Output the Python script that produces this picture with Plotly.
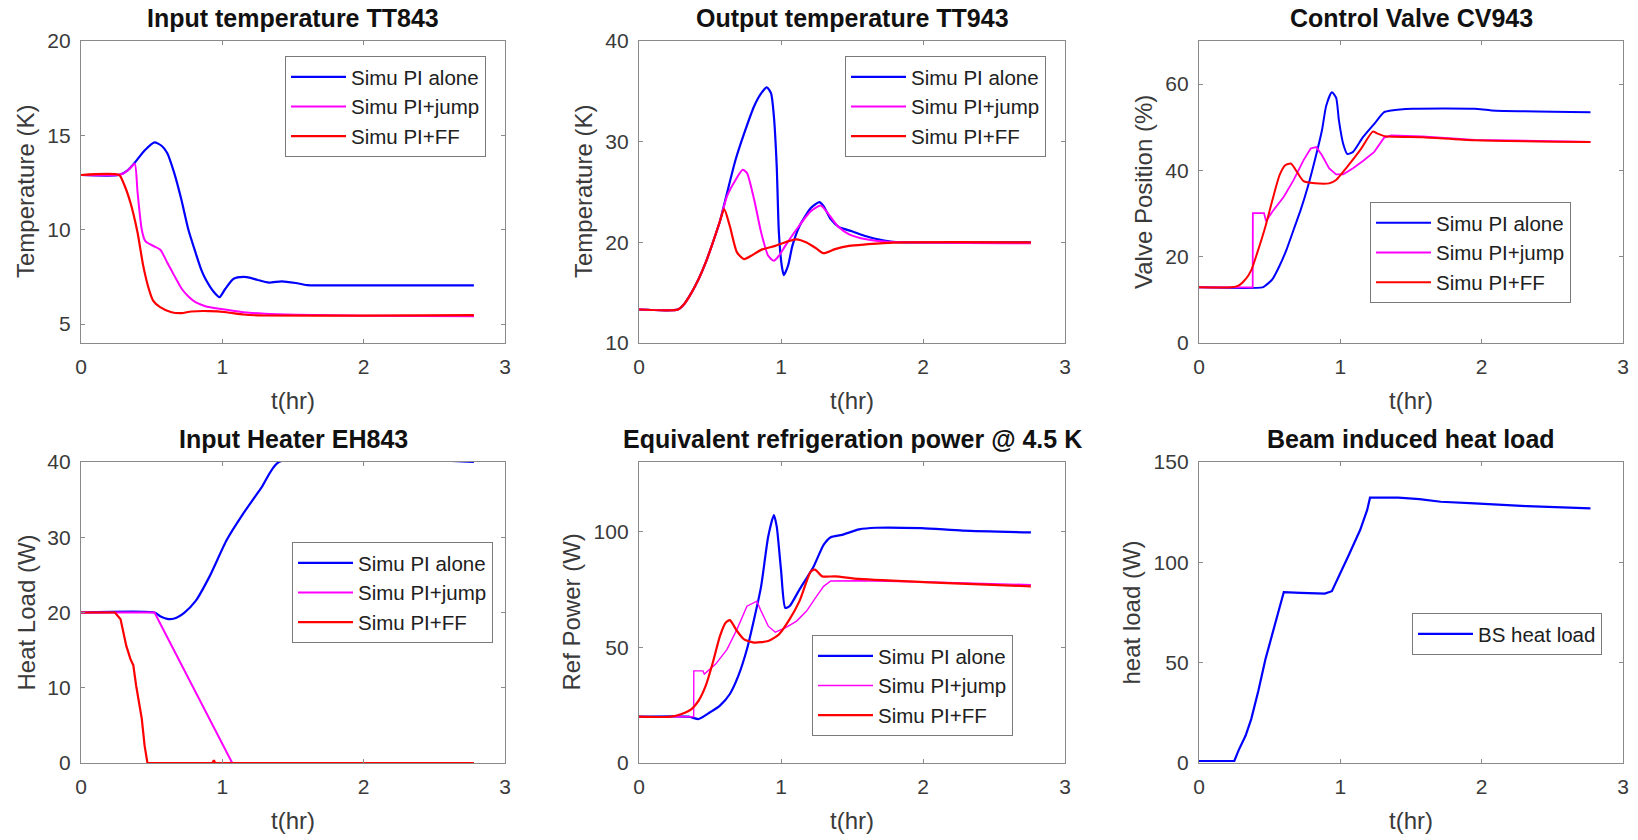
import plotly.graph_objects as go

# ---------------- data ----------------
# Panel 1: Input temperature TT843 (K)
t_tt843_pi = [0, 0.27, 0.33, 0.38, 0.45, 0.52, 0.57, 0.61, 0.66, 0.71, 0.76, 0.81, 0.85, 0.88, 0.94, 0.98,
              1.02, 1.08, 1.15, 1.2, 1.25, 1.33, 1.42, 1.52, 1.6, 2.0, 2.78]
v_tt843_pi = [12.9, 12.9, 13.15, 13.55, 14.2, 14.63, 14.45, 14.07, 13.0, 11.6, 10.0, 8.8, 7.9, 7.4, 6.7, 6.43,
              6.86, 7.4, 7.5, 7.45, 7.34, 7.2, 7.27, 7.18, 7.07, 7.05, 7.05]
t_tt843_jump = [0, 0.25, 0.3, 0.34, 0.38, 0.40, 0.43, 0.455, 0.51, 0.56, 0.61, 0.66, 0.71, 0.76, 0.81, 0.88,
                0.98, 1.15, 1.3, 1.52, 2.0, 2.78]
v_tt843_jump = [12.9, 12.9, 12.98, 13.2, 13.5, 12.0, 10.0, 9.4, 9.15, 8.95, 8.27, 7.57, 6.9, 6.46, 6.16, 5.95,
                5.81, 5.63, 5.55, 5.5, 5.45, 5.42]
t_tt843_ff = [0, 0.27, 0.30, 0.35, 0.40, 0.44, 0.48, 0.51, 0.56, 0.64, 0.71, 0.78, 0.91, 1.03, 1.15, 1.28, 2.0, 2.78]
v_tt843_ff = [12.9, 12.9, 12.49, 11.43, 9.85, 8.1, 6.86, 6.25, 5.9, 5.63, 5.58, 5.67, 5.69, 5.63, 5.51, 5.46, 5.45, 5.48]

# Panel 2: Output temperature TT943 (K)
t_tt943_pi = [0, 0.275, 0.32, 0.37, 0.42, 0.47, 0.52, 0.57, 0.62, 0.68, 0.74, 0.81, 0.86, 0.90, 0.93, 0.95, 0.97,
              0.985, 1.005, 1.02, 1.05, 1.08, 1.13, 1.21, 1.27, 1.30, 1.35, 1.41, 1.50, 1.60, 1.70, 1.79, 2.76]
v_tt943_pi = [13.33, 13.33, 13.9, 15.0, 16.35, 18.0, 19.98, 22.1, 24.9, 28.2, 30.8, 33.5, 34.8, 35.4, 34.8, 32.5, 27.5,
              21.0, 17.7, 16.75, 17.7, 19.65, 21.6, 23.4, 24.0, 23.6, 22.3, 21.5, 21.1, 20.6, 20.25, 20.05, 20.0]
t_tt943_jump = [0, 0.275, 0.32, 0.37, 0.42, 0.47, 0.52, 0.57, 0.62, 0.68, 0.73, 0.76, 0.81, 0.86, 0.91, 0.95, 0.985,
                1.03, 1.11, 1.21, 1.28, 1.33, 1.40, 1.48, 1.6, 1.75, 2.76]
v_tt943_jump = [13.33, 13.33, 13.9, 15.0, 16.35, 18.0, 19.98, 22.1, 24.6, 26.2, 27.2, 26.9, 24.3, 21.0, 18.66, 18.17,
                18.66, 19.65, 21.3, 23.1, 23.66, 22.9, 21.6, 20.8, 20.3, 20.05, 19.9]
t_tt943_ff = [0, 0.275, 0.32, 0.37, 0.42, 0.47, 0.52, 0.57, 0.6, 0.64, 0.69, 0.74, 0.79, 0.86, 0.96, 1.06, 1.11,
              1.18, 1.25, 1.30, 1.38, 1.48, 1.6, 1.79, 2.76]
v_tt943_ff = [13.33, 13.33, 13.9, 15.0, 16.35, 18.0, 19.98, 22.1, 23.3, 21.6, 19.0, 18.33, 18.66, 19.25, 19.65, 20.14,
              20.3, 19.98, 19.38, 18.92, 19.32, 19.65, 19.8, 19.98, 20.0]

# Panel 3: Control Valve CV943 (%)
t_cv_pi = [0, 0.45, 0.47, 0.52, 0.57, 0.62, 0.67, 0.72, 0.77, 0.82, 0.87, 0.90, 0.94, 0.97, 0.99, 1.02, 1.05, 1.09,
           1.16, 1.24, 1.31, 1.36, 1.51, 1.95, 2.07, 2.77]
v_cv_pi = [12.9, 12.9, 13.3, 14.8, 17.9, 21.7, 26.3, 30.9, 36.2, 42.4, 49.3, 55.0, 58.1, 56.9, 51.6, 46.2, 43.8, 44.3,
           47.7, 50.8, 53.5, 53.9, 54.3, 54.3, 53.9, 53.5]
t_cv_jump = [0, 0.38, 0.381, 0.46, 0.475, 0.52, 0.6, 0.67, 0.74, 0.79, 0.83, 0.87, 0.92, 0.97, 1.02, 1.09, 1.16,
             1.24, 1.31, 1.36, 1.58, 1.95, 2.77]
v_cv_jump = [12.9, 12.9, 30.1, 30.1, 28.2, 30.5, 33.9, 37.8, 42.4, 45.1, 45.4, 43.5, 40.5, 39.1, 39.1, 40.5, 42.2,
             44.3, 47.6, 48.1, 47.9, 47.1, 46.6]
t_cv_ff = [0, 0.23, 0.28, 0.33, 0.37, 0.42, 0.47, 0.52, 0.57, 0.61, 0.65, 0.70, 0.74, 0.82, 0.92, 0.97, 1.04, 1.14,
           1.23, 1.26, 1.32, 1.58, 1.95, 2.77]
v_cv_ff = [12.9, 12.9, 13.3, 14.8, 16.9, 21.7, 27.0, 33.2, 38.9, 41.2, 41.6, 39.3, 37.5, 37.0, 37.0, 37.8, 40.5, 44.7,
           49.0, 48.6, 47.9, 47.7, 47.0, 46.6]

# Panel 4: Input Heater EH843 (W)
t_eh_pi = [0, 0.52, 0.56, 0.61, 0.66, 0.73, 0.81, 0.91, 1.03, 1.15, 1.28, 1.40, 2.78]
v_eh_pi = [20, 20, 19.5, 19.15, 19.2, 19.96, 21.5, 24.8, 29.6, 33.2, 36.7, 40, 40]
t_eh_jump = [0, 0.52, 1.07, 2.78]
v_eh_jump = [20, 20, 0, 0]
t_eh_ff = [0, 0.24, 0.28, 0.30, 0.32, 0.35, 0.37, 0.39, 0.43, 0.45, 0.47, 0.93, 0.94, 0.95, 2.78]
v_eh_ff = [20, 20, 19.1, 17.5, 15.6, 13.8, 13.0, 10.3, 5.9, 2.3, 0, 0, 0.35, 0, 0]

# Panel 5: Equivalent refrigeration power @ 4.5 K (W)
t_rp_pi = [0, 0.35, 0.42, 0.50, 0.57, 0.64, 0.70, 0.76, 0.81, 0.86, 0.91, 0.95, 0.97, 1.0, 1.03, 1.06, 1.13, 1.23,
           1.30, 1.35, 1.43, 1.55, 1.67, 1.99, 2.28, 2.76]
v_rp_pi = [20, 20, 19.0, 21.9, 24.8, 29.8, 37.7, 49.1, 62.0, 76.3, 97.8, 107.1, 102.1, 83.5, 67.0, 67.7, 74.9, 84.9,
           94.2, 97.5, 98.5, 100.9, 101.6, 101.4, 100.4, 99.6]
t_rp_jump = [0, 0.385, 0.386, 0.45, 0.46, 0.54, 0.62, 0.69, 0.76, 0.83, 0.86, 0.91, 0.96, 1.03, 1.11, 1.18, 1.25,
             1.30, 1.35, 1.55, 2.04, 2.76]
v_rp_jump = [20, 20, 39.8, 39.8, 38.4, 42.7, 49.1, 57.7, 67.7, 69.9, 65.6, 59.1, 56.5, 58.4, 61.3, 65.6, 72.0,
             76.3, 78.6, 78.7, 78.2, 77.0]
t_rp_ff = [0, 0.225, 0.30, 0.37, 0.42, 0.47, 0.52, 0.57, 0.61, 0.64, 0.69, 0.74, 0.81, 0.91, 0.985, 1.06, 1.13,
           1.21, 1.24, 1.29, 1.38, 1.55, 2.04, 2.76]
v_rp_ff = [20, 20, 21.2, 23.3, 26.9, 33.4, 43.4, 54.8, 60.6, 61.7, 57.0, 53.4, 52.0, 52.7, 55.5, 62.0, 69.9,
           82.7, 83.5, 80.6, 80.6, 79.5, 78.0, 76.3]

# Panel 6: Beam induced heat load (W)
t_bs = [0, 0.25, 0.28, 0.33, 0.37, 0.42, 0.47, 0.52, 0.56, 0.60, 0.72, 0.89, 0.94, 0.99, 1.06, 1.14, 1.19, 1.21,
        1.41, 1.56, 1.71, 1.95, 2.32, 2.77]
v_bs = [1.0, 1.0, 6.3, 13.7, 22.0, 36.0, 51.7, 64.9, 74.8, 85.2, 84.8, 84.4, 85.6, 93.0, 103.7, 116.1, 126.1, 132.2,
        132.2, 131.5, 130.2, 129.4, 128.0, 126.9]

titles = ["Input temperature TT843", "Output temperature TT943", "Control Valve CV943",
          "Input Heater EH843", "Equivalent refrigeration power @ 4.5 K", "Beam induced heat load"]
ylabels = ["Temperature (K)", "Temperature (K)", "Valve Position (%)",
           "Heat Load (W)", "Ref Power (W)", "heat load (W)"]
xlabel = "t(hr)"
names = ["Simu PI alone", "Simu PI+jump", "Simu PI+FF"]
bs_name = "BS heat load"
yranges = [[4, 20], [10, 40], [0, 70], [0, 40], [0, 130], [0, 150]]
yticks = [[5, 10, 15, 20], [10, 20, 30, 40], [0, 20, 40, 60], [0, 10, 20, 30, 40], [0, 50, 100], [0, 50, 100, 150]]
xticks = [0, 1, 2, 3]

# ---------------- styling / layout ----------------
W, H = 1638, 840
COLS = [(81, 505), (639, 1065), (1199, 1623)]
ROWS = [(41, 343), (462, 763)]
LEG_POS = [(285, 56), (845, 56), (1370, 202), (292, 542), (812, 635), (1412, 613)]
FONT = "Liberation Sans, Arial, Helvetica, sans-serif"
BLUE, MAG, RED = "#0000FF", "#FF00FF", "#FF0000"
AX_COL = "#8a8a8a"
TXT_COL = "#3a3a3a"

fig = go.Figure()

panels = [
    [(t_tt843_pi, v_tt843_pi, BLUE, 2.2, "spline"), (t_tt843_jump, v_tt843_jump, MAG, 2.0, "spline"),
     (t_tt843_ff, v_tt843_ff, RED, 2.2, "spline")],
    [(t_tt943_pi, v_tt943_pi, BLUE, 2.2, "spline"), (t_tt943_jump, v_tt943_jump, MAG, 2.0, "spline"),
     (t_tt943_ff, v_tt943_ff, RED, 2.2, "spline")],
    [(t_cv_pi, v_cv_pi, BLUE, 2.0, "spline"), (t_cv_jump, v_cv_jump, MAG, 1.8, "linear"),
     (t_cv_ff, v_cv_ff, RED, 2.0, "spline")],
    [(t_eh_pi, v_eh_pi, BLUE, 2.2, "spline"), (t_eh_jump, v_eh_jump, MAG, 2.0, "linear"),
     (t_eh_ff, v_eh_ff, RED, 2.2, "linear")],
    [(t_rp_pi, v_rp_pi, BLUE, 2.2, "spline"), (t_rp_jump, v_rp_jump, MAG, 1.4, "linear"),
     (t_rp_ff, v_rp_ff, RED, 2.2, "spline")],
]

for i, series in enumerate(panels):
    ax = "" if i == 0 else str(i + 1)
    leg = "legend" if i == 0 else f"legend{i + 1}"
    for (tx, vy, col, lw, shape), nm in zip(series, names):
        fig.add_trace(go.Scatter(
            x=tx, y=vy, mode="lines", name=nm,
            line=dict(color=col, width=lw, shape=shape, smoothing=0.6 if shape == "spline" else None),
            xaxis="x" + ax, yaxis="y" + ax, legend=leg, showlegend=True))

fig.add_trace(go.Scatter(x=t_bs, y=v_bs, mode="lines", name=bs_name,
                         line=dict(color=BLUE, width=2.2), xaxis="x6", yaxis="y6",
                         legend="legend6", showlegend=True))

layout = dict(template="none", width=W, height=H, margin=dict(l=0, r=0, t=0, b=0, pad=0, autoexpand=False),
              paper_bgcolor="white", plot_bgcolor="white",
              font=dict(family=FONT, color=TXT_COL), annotations=[])

for i in range(6):
    r, c = divmod(i, 3)
    x0, x1 = COLS[c]
    y0, y1 = ROWS[r]
    ax = "" if i == 0 else str(i + 1)
    common = dict(showline=True, linecolor=AX_COL, linewidth=1.3, mirror="ticks",
                  ticks="inside", ticklen=4, tickwidth=1, tickcolor=AX_COL,
                  showgrid=False, zeroline=False, automargin=False,
                  tickfont=dict(size=21, color=TXT_COL, family=FONT))
    layout["xaxis" + ax] = dict(common, domain=[x0 / W, x1 / W], range=[0, 3], tickvals=xticks,
                                anchor="y" + ax, ticklabelstandoff=5)
    layout["yaxis" + ax] = dict(common, domain=[1 - y1 / H, 1 - y0 / H], range=yranges[i],
                                tickvals=yticks[i], anchor="x" + ax, ticklabelstandoff=5)
    lx, ly = LEG_POS[i]
    layout["legend" if i == 0 else f"legend{i + 1}"] = dict(
        x=lx / W, y=1 - ly / H, xanchor="left", yanchor="top", xref="paper", yref="paper",
        bgcolor="white", bordercolor="#7a7a7a", borderwidth=1,
        font=dict(size=20.5, color="#202020", family=FONT), itemwidth=55, tracegroupgap=0)
    cx = (x0 + x1) / 2 / W
    # title
    layout["annotations"].append(dict(text="<b>%s</b>" % titles[i], x=cx, y=1 - (y0 - 23) / H,
                                      xref="paper", yref="paper", showarrow=False,
                                      xanchor="center", yanchor="middle",
                                      font=dict(size=25, color="#111111", family=FONT)))
    # x label
    layout["annotations"].append(dict(text=xlabel, x=cx, y=1 - (y1 + 57) / H,
                                      xref="paper", yref="paper", showarrow=False,
                                      xanchor="center", yanchor="middle",
                                      font=dict(size=24, color=TXT_COL, family=FONT)))
    # y label
    off = 68 if i in (4, 5) else 55
    layout["annotations"].append(dict(text=ylabels[i], x=(x0 - off) / W, y=1 - (y0 + y1) / 2 / H,
                                      xref="paper", yref="paper", showarrow=False, textangle=-90,
                                      xanchor="center", yanchor="middle",
                                      font=dict(size=24, color=TXT_COL, family=FONT)))

fig.update_layout(**layout)
fig.write_html("out.html")
